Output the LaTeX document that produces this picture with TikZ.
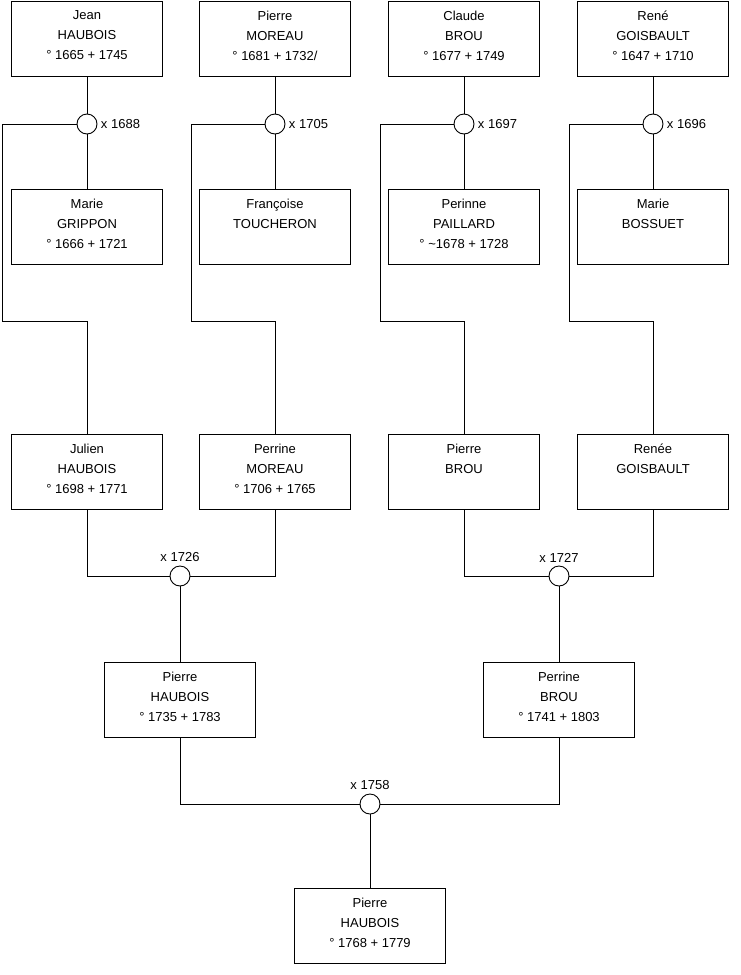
\documentclass[tikz,border=0pt]{standalone}
\usepackage{fontspec}
\setmainfont{Liberation Sans}
\usetikzlibrary{positioning}

\begin{document}
\begin{tikzpicture}[x=1pt, y=-1pt,
  pers/.style={draw, line width=0.9pt, minimum width=151pt,
    minimum height=75pt, align=center, inner sep=0pt, text depth=6pt,
    font=\fontsize{13}{20}\selectfont},
  wed/.style={draw, circle, line width=0.9pt, minimum size=20pt,
    inner sep=0pt, fill=white},
  wedlbl/.style={font=\fontsize{13}{15}\selectfont, label distance=0pt},
  link/.style={line width=0.9pt}
]
  \useasboundingbox (0,0) rectangle (740,975);

  % Great-grandfathers
  \foreach \n/\x/\txt in {jean/87/{Jean\\HAUBOIS\\° 1665 + 1745},
      pierreM/275/{Pierre\\MOREAU\\° 1681 + 1732/},
      claude/464/{Claude\\BROU\\° 1677 + 1749},
      rene/653/{René\\GOISBAULT\\° 1647 + 1710}} {
    \node[pers] (\n) at (\x, 38.5) {\txt};
  }

  % Great-grandmothers
  \foreach \n/\x/\txt in {marie/87/{Marie\\GRIPPON\\° 1666 + 1721},
      francoise/275/{Françoise\\TOUCHERON\\\mbox{}},
      perinne/464/{Perinne\\PAILLARD\\° \textasciitilde1678 + 1728},
      marieB/653/{Marie\\BOSSUET\\\mbox{}}} {
    \node[pers] (\n) at (\x, 227) {\txt};
  }

  % First marriages
  \foreach \m/\x/\yr/\hu/\wi in {ma/87/1688/jean/marie,
      mb/275/1705/pierreM/francoise, mc/464/1697/claude/perinne,
      md/653/1696/rene/marieB} {
    \node[wed, label={[wedlbl]right:x \yr}] (\m) at (\x, 124) {};
    \draw[link] (\hu) -- (\m);
    \draw[link] (\m) -- (\wi);
  }

  % Grandparents
  \node[pers] (julien) at (87, 472) {Julien\\HAUBOIS\\° 1698 + 1771};
  \node[pers] (perrineM) at (275, 472) {Perrine\\MOREAU\\° 1706 + 1765};
  \node[pers] (pierreB) at (464, 472) {Pierre\\BROU\\\mbox{}};
  \node[pers] (renee) at (653, 472) {Renée\\GOISBAULT\\\mbox{}};

  \draw[link] (ma.west) -| (2, 321) -| (julien.north);
  \draw[link] (mb.west) -| (191, 321) -| (perrineM.north);
  \draw[link] (mc.west) -| (380, 321) -| (pierreB.north);
  \draw[link] (md.west) -| (569, 321) -| (renee.north);

  % Second marriages
  \node[wed, label={[wedlbl]above:x 1726}] (me) at (180, 576) {};
  \node[wed, label={[wedlbl]above:x 1727}] (mf) at (559, 576) {};
  \draw[link] (julien.south) |- (me.west);
  \draw[link] (perrineM.south) |- (me.east);
  \draw[link] (pierreB.south) |- (mf.west);
  \draw[link] (renee.south) |- (mf.east);

  % Parents
  \node[pers] (pierreH) at (180, 699.5) {Pierre\\HAUBOIS\\° 1735 + 1783};
  \node[pers] (perrineB) at (559, 699.5) {Perrine\\BROU\\° 1741 + 1803};
  \draw[link] (me) -- (pierreH);
  \draw[link] (mf) -- (perrineB);

  % Last marriage and child
  \node[wed, label={[wedlbl]above:x 1758}] (mg) at (370, 804) {};
  \draw[link] (pierreH.south) |- (mg.west);
  \draw[link] (perrineB.south) |- (mg.east);
  \node[pers] (child) at (370, 925.5) {Pierre\\HAUBOIS\\° 1768 + 1779};
  \draw[link] (mg) -- (child);
\end{tikzpicture}
\end{document}
